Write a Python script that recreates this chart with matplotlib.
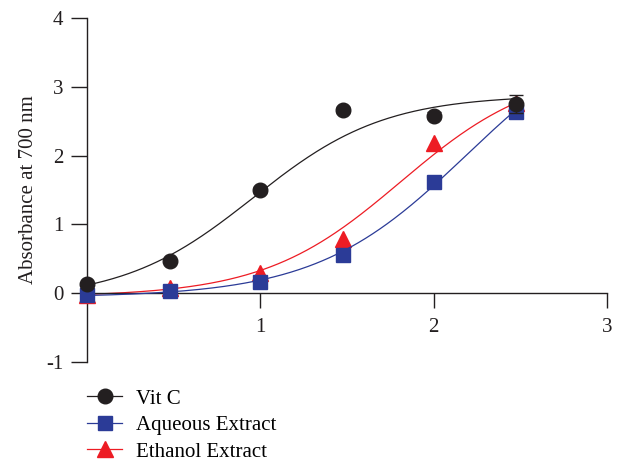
import numpy as np
import matplotlib
matplotlib.use("Agg")
import matplotlib.pyplot as plt

# ---- data (x = log10 concentration) ----
x_vals = [0.0, 0.477, 1.0, 1.477, 2.0, 2.477]
vitc = [0.13, 0.47, 1.50, 2.66, 2.58, 2.75]
vitc_err = [0.02, 0.03, 0.04, 0.04, 0.05, 0.13]
aqueous = [-0.02, 0.03, 0.17, 0.55, 1.62, 2.64]
ethanol = [-0.02, 0.07, 0.30, 0.79, 2.18, 2.76]

# four-parameter logistic fits: [bottom, top, logEC50, hill]
vitc_fit = [-0.1, 2.88, 0.96, 1.15]
aqueous_fit = [-0.06, 4.08, 2.19, 1.0]
ethanol_fit = [-0.05, 3.29, 1.81, 1.1]

labels = ["Vit C", "Aqueous Extract", "Ethanol Extract"]
x_ticks = [1, 2, 3]
y_ticks = [-1, 0, 1, 2, 3, 4]
y_label = "Absorbance at 700 nm"

plt.rcParams['font.family'] = ['Liberation Serif', 'DejaVu Serif']
plt.rcParams['axes.unicode_minus'] = False

BLACK = '#231f20'
BLUE = '#2b3b97'
RED = '#ed1c24'


def logistic(x, p):
    b, t, e, h = p
    return b + (t - b) / (1 + 10 ** ((e - x) * h))


fig = plt.figure(figsize=(6.19, 4.61), dpi=100)
ax = fig.add_axes([87 / 619, 99 / 461, 520 / 619, 344 / 461])

xx = np.linspace(x_vals[0], x_vals[-1], 300)

# Ethanol (bottom layer)
ax.plot(xx, logistic(xx, ethanol_fit), color=RED, lw=0.9, clip_on=False, zorder=2)
ax.plot(x_vals, ethanol, ls='none', marker='^', ms=11, color=RED, clip_on=False, zorder=3)
# Aqueous
ax.plot(xx, logistic(xx, aqueous_fit), color=BLUE, lw=0.9, clip_on=False, zorder=4)
ax.plot(x_vals, aqueous, ls='none', marker='s', ms=10, color=BLUE, clip_on=False, zorder=5)
# Vit C (top)
ax.plot(xx, logistic(xx, vitc_fit), color=BLACK, lw=0.9, clip_on=False, zorder=6)
ax.errorbar(x_vals, vitc, yerr=vitc_err, ls='none', marker='o', ms=10.5, color=BLACK,
            ecolor=BLACK, elinewidth=1, capsize=5, capthick=1, clip_on=False, zorder=7)

# legend handles
h1, = ax.plot([], [], color=BLACK, lw=0.9, marker='o', ms=10.5)
h2, = ax.plot([], [], color=BLUE, lw=0.9, marker='s', ms=10)
h3, = ax.plot([], [], color=RED, lw=0.9, marker='^', ms=11)

ax.set_xlim(0, 3)
ax.set_ylim(-1, 4)
ax.spines['top'].set_visible(False)
ax.spines['right'].set_visible(False)
ax.spines['bottom'].set_position(('data', 0))
for s in ('left', 'bottom'):
    ax.spines[s].set_linewidth(1.0)
    ax.spines[s].set_color(BLACK)

ax.set_xticks(x_ticks)
ax.set_xticklabels([str(v) for v in x_ticks])
ax.set_yticks(y_ticks)
ax.set_yticklabels([str(v) for v in y_ticks])
ax.tick_params(axis='x', direction='out', length=11, width=1, pad=7, labelsize=15, colors=BLACK)
ax.tick_params(axis='y', direction='out', length=11.5, width=1, pad=5.5, labelsize=15, colors=BLACK)

ax.set_ylabel(y_label, fontsize=15, color=BLACK)
ax.yaxis.set_label_coords(-0.095, 0.5)

fig.legend([h1, h2, h3], labels, loc='upper left',
           bbox_to_anchor=(87 / 619, (461 - 389) / 461), bbox_transform=fig.transFigure,
           frameon=False, borderpad=0, borderaxespad=0, fontsize=15,
           handlelength=1.7, handletextpad=0.65, labelspacing=0.33)

fig.savefig("out.png", dpi=100)
